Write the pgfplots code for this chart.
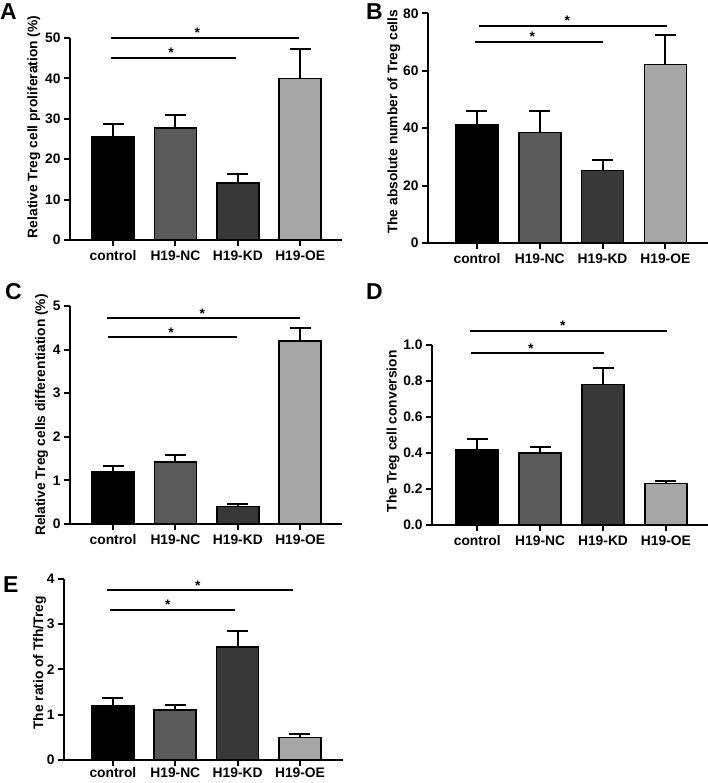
\documentclass[border=0pt]{standalone}
\usepackage{pgfplots}
\pgfplotsset{compat=1.18}
\usepackage{fontspec}
\setmainfont{Liberation Sans}
\definecolor{cNC}{HTML}{5A5A5A}
\definecolor{cKD}{HTML}{383838}
\definecolor{cOE}{HTML}{A6A6A6}
\newcommand{\tfont}{\fontsize{13.8}{15}\selectfont\bfseries}
\newcommand{\pfont}{\fontsize{23}{26}\selectfont\bfseries}
\pgfplotsset{
  gpaxis/.style={scale only axis, clip=false,
    axis x line*=bottom, axis y line*=left,
    axis line style={line width=2pt, -},
    tick align=outside, major tick length=6pt,
    tick style={line width=2pt, black},
    xtick={0,1,2,3}, xticklabels={control,H19-NC,H19-KD,H19-OE},
    xticklabel style={inner sep=1pt, text depth=0pt, yshift=-3.6pt},
    ymin=0,
    ticklabel style={font=\tfont},
    label style={font=\tfont},
    /pgf/number format/assume math mode=true,
    anchor=south west},
  gpbar/.style={ybar, bar width=42pt, bar shift=0pt, draw=black, line width=1.6pt, fill=#1,
    error bars/.cd, y dir=plus, y explicit,
    error bar style={line width=2pt, black},
    error mark options={line width=2pt, mark size=10.5pt, black, rotate=90}},
  gpsig/.style={line width=2pt, black, no markers, forget plot},
}
\begin{document}
\begin{tikzpicture}
\path[use as bounding box] (0pt,0pt) rectangle (708pt,783pt);
% Panel A
\begin{axis}[gpaxis, at={(70pt,543pt)}, width=272pt, height=202pt,
  xmin=-0.69, xmax=3.67, ymax=50, ytick={0,10,20,30,40,50},
  ylabel={Relative Treg cell proliferation (\%)},
  ylabel shift=-2pt, ylabel style={at={(ticklabel cs:0.56)}}]
\addplot[gpbar=black] coordinates {(0,25.5) +- (0,3.3)};
\addplot[gpbar=cNC] coordinates {(1,27.7) +- (0,3.3)};
\addplot[gpbar=cKD] coordinates {(2,14.1) +- (0,2.2)};
\addplot[gpbar=cOE] coordinates {(3,40.0) +- (0,7.3)};
\addplot[gpsig] coordinates {(-0.03,50) (2.98,50)};
\addplot[gpsig] coordinates {(-0.03,45.1) (1.97,45.1)};
\node[font=\tfont, anchor=base] at (axis cs:1.35,50) {*};
\node[font=\tfont, anchor=base] at (axis cs:0.93,45.1) {*};
\end{axis}
% Panel B
\begin{axis}[gpaxis, at={(428pt,540pt)}, width=280pt, height=229.7pt,
  xmin=-0.78, xmax=3.68, ymax=80, ytick={0,20,40,60,80},
  ylabel={The absolute number of Treg cells},
  ylabel shift=-4pt, ylabel style={at={(ticklabel cs:0.527)}}]
\addplot[gpbar=black] coordinates {(0,41.0) +- (0,5.0)};
\addplot[gpbar=cNC] coordinates {(1,38.5) +- (0,7.3)};
\addplot[gpbar=cKD] coordinates {(2,25.2) +- (0,3.8)};
\addplot[gpbar=cOE] coordinates {(3,62.2) +- (0,10.4)};
\addplot[gpsig] coordinates {(0.03,75.7) (3.03,75.7)};
\addplot[gpsig] coordinates {(-0.03,70) (2.01,70)};
\node[font=\tfont, anchor=base] at (axis cs:1.44,75.7) {*};
\node[font=\tfont, anchor=base] at (axis cs:0.88,70) {*};
\end{axis}
% Panel C
\begin{axis}[gpaxis, at={(70pt,259pt)}, width=272pt, height=218pt,
  xmin=-0.69, xmax=3.67, ymax=5, ytick={0,1,2,3,4,5},
  ylabel={Relative Treg cells differentiation (\%)},
  ylabel shift=-2pt]
\addplot[gpbar=black] coordinates {(0,1.2) +- (0,0.13)};
\addplot[gpbar=cNC] coordinates {(1,1.42) +- (0,0.17)};
\addplot[gpbar=cKD] coordinates {(2,0.4) +- (0,0.06)};
\addplot[gpbar=cOE] coordinates {(3,4.2) +- (0,0.3)};
\addplot[gpsig] coordinates {(-0.1,4.72) (3.0,4.72)};
\addplot[gpsig] coordinates {(-0.08,4.28) (1.99,4.28)};
\node[font=\tfont, anchor=base] at (axis cs:1.43,4.72) {*};
\node[font=\tfont, anchor=base] at (axis cs:0.93,4.28) {*};
\end{axis}
% Panel D
\begin{axis}[gpaxis, at={(432pt,258pt)}, width=276pt, height=180pt,
  xmin=-0.72, xmax=3.67, ymax=1, ytick={0,0.2,0.4,0.6,0.8,1.0},
  yticklabel style={/pgf/number format/.cd, fixed, fixed zerofill, precision=1},
  ylabel={The Treg cell conversion},
  ylabel shift=-3pt, ylabel style={at={(ticklabel cs:0.52)}}]
\addplot[gpbar=black] coordinates {(0,0.42) +- (0,0.06)};
\addplot[gpbar=cNC] coordinates {(1,0.40) +- (0,0.035)};
\addplot[gpbar=cKD] coordinates {(2,0.78) +- (0,0.09)};
\addplot[gpbar=cOE] coordinates {(3,0.23) +- (0,0.012)};
\addplot[gpsig] coordinates {(-0.11,1.078) (3.01,1.078)};
\addplot[gpsig] coordinates {(-0.1,0.954) (2.01,0.954)};
\node[font=\tfont, anchor=base] at (axis cs:1.36,1.078) {*};
\node[font=\tfont, anchor=base] at (axis cs:0.85,0.954) {*};
\end{axis}
% Panel E
\begin{axis}[gpaxis, at={(64pt,23pt)}, width=279pt, height=181pt,
  xmin=-0.785, xmax=3.69, ymax=4, ytick={0,1,2,3,4},
  xticklabel style={yshift=3pt},
  ylabel={The ratio of Tfh/Treg},
  ylabel shift=-6pt, ylabel style={at={(ticklabel cs:0.536)}}]
\addplot[gpbar=black] coordinates {(0,1.2) +- (0,0.16)};
\addplot[gpbar=cNC] coordinates {(1,1.1) +- (0,0.12)};
\addplot[gpbar=cKD] coordinates {(2,2.5) +- (0,0.36)};
\addplot[gpbar=cOE] coordinates {(3,0.5) +- (0,0.07)};
\addplot[gpsig] coordinates {(-0.1,3.75) (2.88,3.75)};
\addplot[gpsig] coordinates {(-0.05,3.32) (1.96,3.32)};
\node[font=\tfont, anchor=base] at (axis cs:1.36,3.75) {*};
\node[font=\tfont, anchor=base] at (axis cs:0.88,3.32) {*};
\end{axis}
\node[font=\pfont, anchor=base west, inner sep=0pt] at (0pt,763pt) {A};
\node[font=\pfont, anchor=base west, inner sep=0pt] at (366pt,763pt) {B};
\node[font=\pfont, anchor=base west, inner sep=0pt] at (5pt,483pt) {C};
\node[font=\pfont, anchor=base west, inner sep=0pt] at (366pt,483pt) {D};
\node[font=\pfont, anchor=base west, inner sep=0pt] at (3pt,190pt) {E};
\end{tikzpicture}
\end{document}
